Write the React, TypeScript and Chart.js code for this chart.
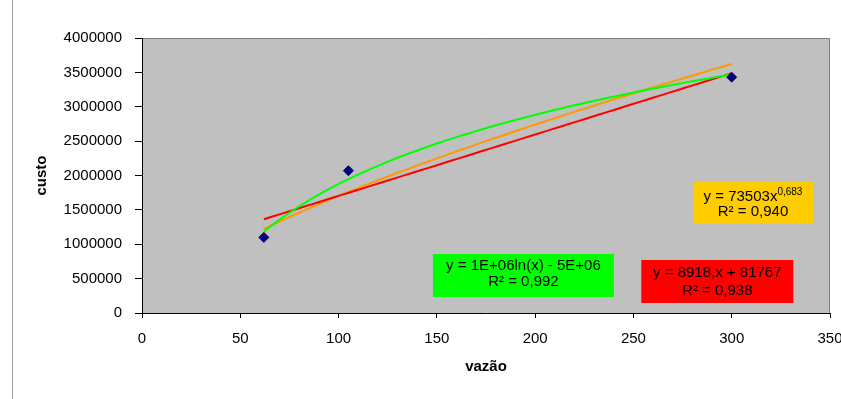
import React, { useEffect, useRef } from "react";
import { Chart, registerables } from "chart.js";

Chart.register(...registerables);

// ---- data ----
const vazao = [62, 105, 300];
const custo = [1100000, 2070000, 3430000];
const xTickValues = [0, 50, 100, 150, 200, 250, 300, 350];
const yTickValues = [0, 500000, 1000000, 1500000, 2000000, 2500000, 3000000, 3500000, 4000000];
const xTitle = "vazão";
const yTitle = "custo";
const linearText = ["y = 8918,x + 81767", "R² = 0,938"];
const logText = ["y = 1E+06ln(x) - 5E+06", "R² = 0,992"];
const powerText = ["y = 73503x", "0,683", "R² = 0,940"];

const FONT = "'Liberation Sans', Arial, sans-serif";

// least-squares fits computed from the data (Excel-style trendlines)
function linFit(xs: number[], ys: number[]) {
  const n = xs.length;
  const mx = xs.reduce((a, b) => a + b, 0) / n;
  const my = ys.reduce((a, b) => a + b, 0) / n;
  let sxy = 0, sxx = 0;
  for (let i = 0; i < n; i++) {
    sxy += (xs[i] - mx) * (ys[i] - my);
    sxx += (xs[i] - mx) * (xs[i] - mx);
  }
  const m = sxy / sxx;
  return { m, b: my - m * mx };
}

function trend(kind: "lin" | "log" | "pow") {
  const lx = vazao.map(Math.log);
  const ly = custo.map(Math.log);
  let f: (x: number) => number;
  if (kind === "lin") {
    const { m, b } = linFit(vazao, custo);
    f = (x) => m * x + b;
  } else if (kind === "log") {
    const { m, b } = linFit(lx, custo);
    f = (x) => m * Math.log(x) + b;
  } else {
    const { m, b } = linFit(lx, ly);
    f = (x) => Math.exp(b) * Math.pow(x, m);
  }
  const x0 = Math.min(...vazao);
  const x1 = Math.max(...vazao);
  const steps = 60;
  const pts: { x: number; y: number }[] = [];
  for (let i = 0; i <= steps; i++) {
    const x = x0 + ((x1 - x0) * i) / steps;
    pts.push({ x, y: f(x) });
  }
  return pts;
}

type Box = {
  x: number; // data x of left edge
  y: number; // data y of top edge
  w: number;
  h: number;
  color: string;
  lines: string[];
  offs: number[];
  sup?: boolean;
};

const boxes: Box[] = [
  { x: 148, y: 858000, w: 181, h: 43, color: "#00FF00", lines: logText, offs: [12, 28] },
  { x: 254, y: 771000, w: 152, h: 43, color: "#FF0000", lines: linearText, offs: [13, 31] },
  { x: 280.3, y: 1905000, w: 120, h: 42, color: "#FFCC00", lines: powerText, offs: [15, 30], sup: true },
];

const decorPlugin = {
  id: "decor",
  beforeDraw(chart: any) {
    const { ctx, chartArea: a, height } = chart;
    ctx.save();
    ctx.fillStyle = "#FFFFFF";
    ctx.fillRect(0, 0, chart.width, height);
    ctx.strokeStyle = "#A0A0A0";
    ctx.lineWidth = 1;
    ctx.beginPath();
    ctx.moveTo(12.5, 0);
    ctx.lineTo(12.5, height);
    ctx.stroke();
    ctx.fillStyle = "#C0C0C0";
    ctx.fillRect(a.left, a.top, a.right - a.left, a.bottom - a.top);
    ctx.strokeStyle = "#808080";
    ctx.beginPath();
    ctx.moveTo(a.left, a.top + 0.5);
    ctx.lineTo(a.right - 0.5, a.top + 0.5);
    ctx.lineTo(a.right - 0.5, a.bottom);
    ctx.stroke();
    ctx.restore();
  },
  afterDatasetsDraw(chart: any) {
    const { ctx, scales } = chart;
    ctx.save();
    for (const b of boxes) {
      const left = scales.x.getPixelForValue(b.x);
      const top = scales.y.getPixelForValue(b.y);
      ctx.fillStyle = b.color;
      ctx.fillRect(left, top, b.w, b.h);
      ctx.fillStyle = "#000";
      ctx.textBaseline = "middle";
      const cx = left + b.w / 2;
      ctx.font = `15px ${FONT}`;
      if (b.sup) {
        const main = b.lines[0];
        const sup = b.lines[1];
        const mw = ctx.measureText(main).width;
        ctx.font = `10px ${FONT}`;
        const sw = ctx.measureText(sup).width;
        const start = cx - (mw + sw) / 2;
        ctx.textAlign = "left";
        ctx.font = `15px ${FONT}`;
        ctx.fillText(main, start, top + b.offs[0]);
        ctx.font = `10px ${FONT}`;
        ctx.fillText(sup, start + mw, top + b.offs[0] - 5);
        ctx.font = `15px ${FONT}`;
        ctx.textAlign = "center";
        ctx.fillText(b.lines[2], cx, top + b.offs[1]);
      } else {
        ctx.textAlign = "center";
        b.lines.forEach((t, i) => ctx.fillText(t, cx, top + b.offs[i]));
      }
    }
    ctx.restore();
  },
};

export default function App() {
  const ref = useRef<HTMLCanvasElement>(null);
  useEffect(() => {
    if (!ref.current) return;
    const chart = new Chart(ref.current, {
      type: "scatter",
      data: {
        datasets: [
          {
            label: "custo",
            data: vazao.map((x, i) => ({ x, y: custo[i] })),
            backgroundColor: "#000080",
            borderColor: "#000080",
            pointStyle: "rectRot",
            pointRadius: 5,
            showLine: false,
            order: 0,
          },
          {
            label: "log",
            data: trend("log"),
            borderColor: "#00FF00",
            borderWidth: 2,
            pointRadius: 0,
            showLine: true,
            order: 1,
          },
          {
            label: "linear",
            data: trend("lin"),
            borderColor: "#FF0000",
            borderWidth: 2,
            pointRadius: 0,
            showLine: true,
            order: 2,
          },
          {
            label: "power",
            data: trend("pow"),
            borderColor: "#FF9900",
            borderWidth: 2,
            pointRadius: 0,
            showLine: true,
            order: 3,
          },
        ],
      },
      options: {
        responsive: false,
        animation: false,
        layout: { padding: { top: 38, right: 11, left: 0, bottom: 0 } },
        plugins: {
          legend: { display: false },
          tooltip: { enabled: false },
        },
        scales: {
          x: {
            type: "linear",
            min: 0,
            max: 350,
            afterFit: (s: any) => { s.height = 86; s.paddingLeft = 0; s.paddingRight = 0; },
            afterBuildTicks: (s: any) => { s.ticks = xTickValues.map((v) => ({ value: v })); },
            ticks: {
              color: "#000",
              font: { family: FONT, size: 15 },
              padding: 12,
              callback: (v: any) => String(v),
            },
            grid: { drawOnChartArea: false, drawTicks: true, tickLength: 5, color: "#000" },
            border: { display: true, color: "#000", width: 1 },
            title: {
              display: true,
              text: xTitle,
              color: "#000",
              font: { family: FONT, size: 15, weight: "bold" },
              padding: { top: 0, bottom: 23 },
            },
          },
          y: {
            type: "linear",
            min: 0,
            max: 4000000,
            afterFit: (s: any) => { s.width = 142; s.paddingTop = 0; s.paddingBottom = 0; },
            afterBuildTicks: (s: any) => { s.ticks = yTickValues.map((v) => ({ value: v })); },
            ticks: {
              color: "#000",
              font: { family: FONT, size: 15 },
              padding: 13,
              callback: (v: any) => String(v),
            },
            grid: { drawOnChartArea: false, drawTicks: true, tickLength: 7, color: "#000" },
            border: { display: true, color: "#000", width: 1 },
            title: {
              display: true,
              text: yTitle,
              color: "#000",
              font: { family: FONT, size: 15, weight: "bold" },
              padding: { top: 33, bottom: 0 },
            },
          },
        },
      },
      plugins: [decorPlugin],
    } as any);
    return () => chart.destroy();
  }, []);
  return (
    <div style={{ position: "absolute", left: 0, top: 0, width: 841, height: 399, background: "#fff" }}>
      <canvas ref={ref} width={841} height={399} style={{ display: "block" }} />
    </div>
  );
}
